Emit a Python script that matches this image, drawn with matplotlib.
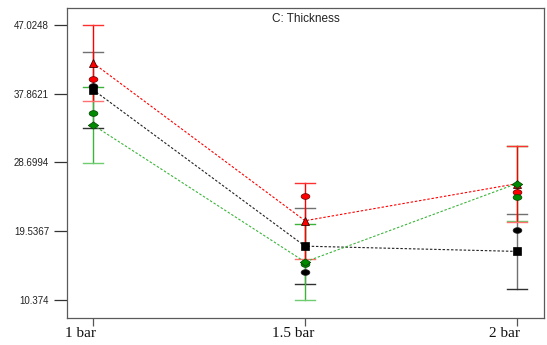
import matplotlib
matplotlib.use("Agg")
import matplotlib.pyplot as plt
import matplotlib.transforms as mtransforms
from matplotlib.path import Path
import numpy as np

# ---- data ----
categories = ["1 bar", "1.5 bar", "2 bar"]
x_pos = [1.0, 1.5, 2.0]

red_mean = [41.97, 20.94, 25.88]
black_mean = [38.40, 17.55, 16.85]
green_mean = [33.70, 15.45, 25.90]
lsd_half = [5.05, 5.05, 5.05]

red_pts = [39.83, 24.28, 24.81]
black_pts = [38.95, 14.07, 19.70]
green_pts = [35.26, 15.20, 24.06]

y_ticks = [10.374, 19.5367, 28.6994, 37.8621, 47.0248]
y_tick_labels = ["10.374", "19.5367", "28.6994", "37.8621", "47.0248"]
title = "C: Thickness"

# ---- figure ----
W, H = 547, 345
fig = plt.figure(figsize=(W / 100, H / 100), dpi=100)
ax = fig.add_axes([67 / W, (H - 318) / H, (544 - 67) / W, (318 - 8) / H])
ax.set_xlim(0.9387, 2.0637)
ax.set_ylim(7.975, 49.29)

RED = "#ff0000"
BLACK = "#000000"
GREEN_LINE = "#3cb43c"
GREEN_MK = "#008a00"
cap = 0.024

def errbars(means, color, capcol_hi, capcol_lo):
    for x, m, h in zip(x_pos, means, lsd_half):
        ax.plot([x, x], [m - h, m + h], color=color, lw=1.0, zorder=2)
        ax.plot([x - cap, x + cap], [m + h, m + h], color=capcol_hi, lw=1.0, zorder=2)
        ax.plot([x - cap, x + cap], [m - h, m - h], color=capcol_lo, lw=1.0, zorder=2)

errbars(black_mean, "#707070", "#707070", "#303030")
errbars(green_mean, GREEN_LINE, "#3cb43c", "#70cc70")
errbars(red_mean, RED, "#ff3030", "#ff7070")

dash = (0, (2.2, 1.6))
ax.plot(x_pos, red_mean, color=RED, lw=0.8, ls=dash, zorder=3)
ax.plot(x_pos, black_mean, color="#222222", lw=0.8, ls=dash, zorder=3)
ax.plot(x_pos, green_mean, color=GREEN_LINE, lw=0.8, ls=dash, zorder=3)

# ellipse-ish marker for design points
t = np.linspace(0, 2 * np.pi, 40)
ell = Path(np.column_stack([np.cos(t), 0.65 * np.sin(t)]), closed=True)
dia = Path([(-1, 0), (0, 0.7), (1, 0), (0, -0.7), (-1, 0)], closed=True)

ax.plot(x_pos, black_pts, ls="none", marker=ell, ms=6.3, mfc=BLACK, mec="#202020", mew=0.5, zorder=4)
ax.plot(x_pos, red_pts, ls="none", marker=ell, ms=6.3, mfc=RED, mec="#600000", mew=0.5, zorder=4)
ax.plot(x_pos, green_pts, ls="none", marker=ell, ms=6.3, mfc=GREEN_MK, mec="#004000", mew=0.5, zorder=4)

ax.plot(x_pos, red_mean, ls="none", marker="^", ms=6.3, mfc=RED, mec="#400000", mew=0.6, zorder=5)
ax.plot(x_pos, black_mean, ls="none", marker="s", ms=5.8, mfc=BLACK, mec=BLACK, mew=0.5, zorder=5)
ax.plot(x_pos, green_mean, ls="none", marker=dia, ms=7.5, mfc=GREEN_MK, mec="#004000", mew=0.5, zorder=6)

# axes styling
for s in ax.spines.values():
    s.set_color("#5a5a5a")
    s.set_linewidth(0.9)

ax.set_yticks(y_ticks)
ax.set_yticklabels(y_tick_labels, fontsize=7, family="Liberation Sans", color="#222222")
ax.set_xticks(x_pos)
ax.set_xticklabels(categories, fontsize=11, family="Liberation Serif", color="#111111")
ax.tick_params(axis="y", length=9.5, width=0.9, color="#333333", pad=3.5)
ax.tick_params(axis="x", length=5.8, width=0.9, color="#555555", pad=1)

offset = mtransforms.ScaledTranslation(-12 / 100, 0, fig.dpi_scale_trans)
for lab in ax.get_xticklabels():
    lab.set_transform(lab.get_transform() + offset)

ax.text(0.5, 0.985, title, transform=ax.transAxes, ha="center", va="top",
        fontsize=8.5, family="Liberation Sans", color="#222222")

fig.savefig("out.png", dpi=100)
